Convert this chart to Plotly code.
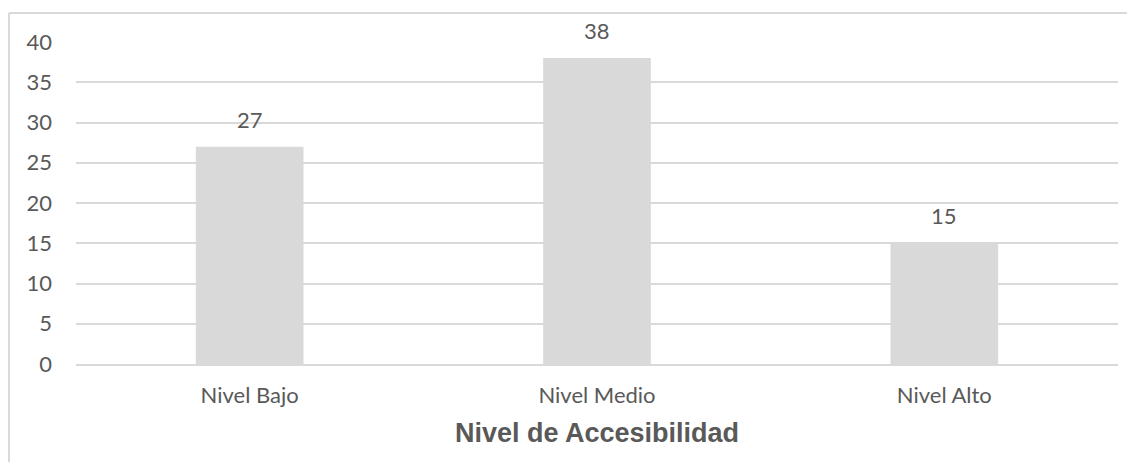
import plotly.graph_objects as go

categories = ["Nivel Bajo", "Nivel Medio", "Nivel Alto"]
values = [27, 38, 15]
y_ticks = [0, 5, 10, 15, 20, 25, 30, 35, 40]

# page body has an 8px margin, so the figure is laid out in local coordinates
OFF = 8
W, H = 1119, 454
L, T = 76 - OFF, 42 - OFF
R = W - (1118 - OFF)
B = H - (364 - OFF)
pw, ph = W - L - R, H - T - B

def px_to_paper_x(px):
    return (px - OFF - L) / pw

def px_to_paper_y(py):
    return (H - B - (py - OFF)) / ph

FONT = "Lato, Open Sans, sans-serif"
TXT = "#595959"

fig = go.Figure()
fig.add_trace(go.Bar(
    x=categories, y=values,
    marker=dict(color="#d9d9d9", line=dict(width=0)),
    width=0.31,
    hoverinfo="x+y",
))

for c, v in zip(categories, values):
    fig.add_annotation(
        x=c, y=v, text=str(v), showarrow=False,
        yanchor="bottom", yshift=12,
        font=dict(family=FONT, size=22, color=TXT),
    )

fig.update_layout(
    width=W, height=H,
    margin=dict(l=L, r=R, t=T, b=B),
    paper_bgcolor="white", plot_bgcolor="white",
    showlegend=False,
    xaxis=dict(
        showgrid=False, showline=True, linecolor="#d9d9d9", linewidth=2,
        tickfont=dict(family=FONT, size=22, color=TXT),
        ticks="", ticklabelstandoff=11,
        title=dict(text="<b>Nivel de Accesibilidad</b>", standoff=16,
                   font=dict(family="Liberation Sans, Arial, sans-serif", size=27, color=TXT)),
    ),
    yaxis=dict(
        range=[0, 40], tickvals=y_ticks,
        showgrid=True, gridcolor="#d9d9d9", gridwidth=2,
        zeroline=False, showline=False, ticks="",
        ticklabelstandoff=23,
        tickfont=dict(family=FONT, size=22, color=TXT),
    ),
    shapes=[
        dict(type="line", xref="paper", yref="paper",
             x0=px_to_paper_x(9), x1=px_to_paper_x(1140),
             y0=px_to_paper_y(13), y1=px_to_paper_y(13),
             line=dict(color="#d9d9d9", width=2)),
        dict(type="line", xref="paper", yref="paper",
             x0=px_to_paper_x(9), x1=px_to_paper_x(9),
             y0=px_to_paper_y(13), y1=px_to_paper_y(480),
             line=dict(color="#d9d9d9", width=2)),
    ],
)

fig.write_html("out.html")
